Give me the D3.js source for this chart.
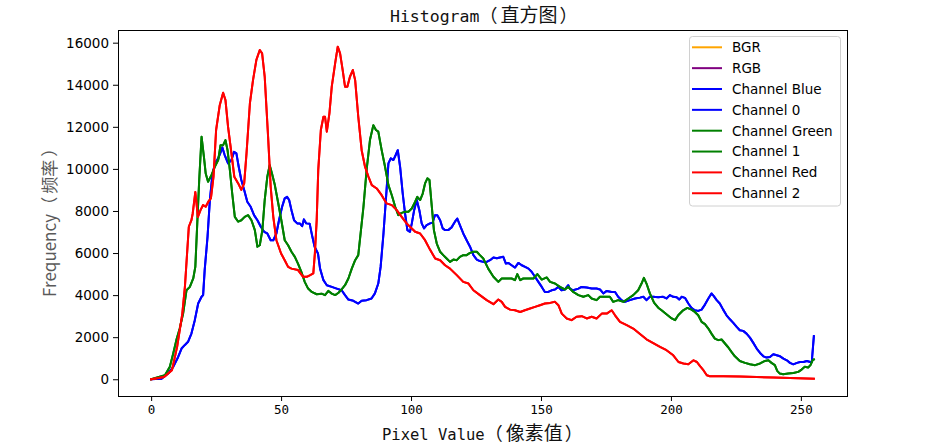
<!DOCTYPE html>
<html>
<head>
<meta charset="utf-8">
<script src="https://d3js.org/d3.v7.min.js"></script>
<style>
  html, body { margin: 0; padding: 0; background: #fff; }
  svg { display: block; }
</style>
</head>
<body>
<svg id="chart" width="941" height="447"></svg>
<script>
// ---- data ----
const xTicks = [0, 50, 100, 150, 200, 250];
const yTicks = [0, 2000, 4000, 6000, 8000, 10000, 12000, 14000, 16000];

const legendLabels = ["BGR", "RGB", "Channel Blue", "Channel 0", "Channel Green", "Channel 1", "Channel Red", "Channel 2"];
const legendColors = ["orange", "purple", "blue", "blue", "green", "green", "red", "red"];

const blueX = [0,4,6.5,8.5,10.4,11.7,12.9,14.2,15.5,16.8,18.1,19.4,20,20.6,21.7,22.6,23.5,24.5,25.8,26.8,27.4,28.3,29.6,30.9,31.9,32.8,33.7,34.7,35.8,37,38.3,39.6,40.9,42.2,43.5,44.7,46,47,48.2,49.2,50.4,51.4,52.3,53.1,54,55,56.2,57.2,58.1,58.8,59.7,61,61.9,62.9,64.2,65,66.3,67.6,69.5,71.4,73.3,74.6,75.9,77.8,79.7,81,82.9,84.8,86.1,87.4,88.3,89.4,90.4,91.3,92.2,93.2,94.1,94.9,95.8,96.8,97.7,98.6,99.6,100.3,101.2,102.2,103.2,104.1,105,106,107.3,108.3,109.2,110.1,111.2,112.2,113.1,114.3,115.6,116.9,117.8,118.8,120.1,121.4,122.7,124,125.3,126.5,127.8,129.1,130.4,131.7,133,134.2,135.5,136.5,137.4,138.7,140,141.3,142.6,143.9,145.2,146.4,147.7,149,150.3,151.5,152.8,154.1,155.4,156.7,157.9,159.2,160.5,161.1,162.4,164.4,165.6,167.6,169.5,171.4,172.7,174,175.3,177.2,178.5,179.7,181,182.3,184.2,186.2,188.1,189.4,190.6,191.9,193.2,195.1,197,198.3,199.6,200.9,202.2,203.2,204.1,205.4,206.7,207.9,209.2,210.5,211.8,213.1,214.4,215.6,216.5,217.6,218.8,220.1,221.4,222.7,224,225.3,226.5,227.8,229.1,230.4,231.7,233,234.3,235.6,236.8,238.1,239.4,240.7,242,243.3,244.6,245.8,247.1,248.5,249.7,251,252.3,253.6,254.2,255];
const blueCounts = [0,20,270,590,1060,1460,1620,1780,2170,2810,3600,3920,4000,5190,6770,8520,9630,10260,10500,10810,11020,10660,10260,10420,10810,10740,10100,9470,9000,8440,8200,7800,7560,7250,7010,6930,6610,6610,6930,7560,8200,8600,8670,8520,8040,7560,7410,7410,7280,7600,7410,7390,6850,6300,5980,5260,4710,4470,4390,4310,4230,4000,3790,3730,3600,3730,3760,3840,4080,4550,5340,6930,8670,10260,10500,10420,10660,10890,10100,8830,7880,7090,7010,7410,8040,8520,8040,7410,7170,7330,7410,7440,7800,7800,7560,7170,7090,7090,7220,7490,7640,7330,6930,6610,6300,5900,5690,5620,5580,5580,5660,5790,5750,5790,5820,5500,5530,5420,5310,5530,5420,5340,5260,5110,4870,4630,4390,4150,4150,4230,4270,4390,4230,4270,4470,4310,4230,4310,4390,4360,4310,4310,4270,4080,4200,4150,4150,3920,3760,3680,3760,3840,3880,3920,3760,3920,3920,3900,3920,3840,4000,3920,3900,3790,3920,3870,3600,3390,3280,3250,3310,3550,3840,4080,3950,3760,3600,3310,3040,2850,2680,2490,2330,2300,2170,1980,1730,1460,1250,1090,1030,1060,1190,1140,1090,980,900,780,710,780,820,820,870,820,820,2050];

const greenX = [0,5.3,7.2,8.5,9.7,11,12.3,13.6,14.9,16.2,17,17.8,18.5,19.4,20.3,21,21.9,23.2,24.5,25.8,26.7,27.7,28.6,29.4,30.3,31.2,32.2,33.5,34.7,36,37.3,38.6,39.9,40.9,41.8,42.8,43.7,44.7,45.6,46.5,47.6,48.8,50.1,51.4,52.7,54,55.3,56.5,57.8,59.1,60.4,61.8,63.7,65.6,66.9,68.2,69.5,70.8,72.1,73.3,74.6,75.9,77.2,78.5,79.7,80.6,81.7,82.9,84.2,85.5,86.5,87.4,88.7,90,91.3,92.6,93.9,95.1,96.4,97.7,99,100.3,101.6,102.4,103.5,104.5,105.4,106.3,107.1,108,108.8,109.9,111.2,112.4,113.7,115,116.3,117.6,118.8,120.1,121.4,122.7,124,125.3,126.5,127.8,129.7,131.7,133.6,134.9,136.8,138.7,140,140.9,142,143.2,145.2,147.1,148.6,150.3,152.2,153.5,155.4,157.3,159.2,160.5,162.4,164.4,166.3,168.2,169.5,171.4,172.7,174.6,176.5,177.8,179.7,181.7,183.6,185.5,187.4,188.7,189.6,190.6,191.9,193.5,195.1,196.4,198.4,200.3,201.6,202.8,204.7,206.3,207.9,209.2,210.5,211.8,213.1,214.4,215.6,216.9,218.2,219.5,220.8,222.1,223.3,224.6,226.5,228.5,230.4,232.4,234.3,236.2,237.5,238.7,240,240.9,241.9,243.2,245.1,247.1,249,250.3,251.5,252.8,253.7,254.5,255];
const greenCounts = [0,190,590,1220,1860,2410,3120,4230,4390,4790,5340,7560,9470,11530,10580,9780,9390,9700,10100,10420,11130,11130,11370,10890,9940,8830,7720,7490,7560,7720,7800,7560,7090,6300,6370,7090,8520,9630,10180,9780,9230,8440,7560,6610,6370,6060,5820,5500,5110,4630,4310,4150,4040,4070,4000,4200,4070,4000,4110,4270,4470,4790,5260,5660,5900,6930,8200,9940,11370,12080,11850,11770,10890,10100,9230,8750,8200,7800,7910,7960,7960,8120,8440,8670,8520,8830,9310,9550,9470,8200,7090,6450,6060,5900,5740,5580,5690,5660,5820,5900,5900,6010,6060,6060,5900,5740,5260,4870,4630,4790,4790,4790,4710,5000,4710,4790,4790,4790,5000,4740,4840,4630,4550,4390,4270,4390,4150,4000,3920,4000,3840,3760,3920,3920,3920,3680,3760,3680,3840,4000,4230,4550,4820,4550,4080,3640,3400,3280,3080,2890,2810,3040,3280,3390,3310,3200,3040,2730,2620,2410,2170,1930,1860,1890,1700,1510,1300,1090,870,780,710,670,750,870,900,780,670,400,270,240,270,300,350,460,590,560,670,900,940];

const redX = [0,5,8,10,12,13,14.5,15.5,16,17,18,19,20,21,22,23,24,25,26.4,27.7,28.6,29.6,30.9,32,33.5,34.7,35.8,36.7,38,39.2,40.5,41.8,42.7,43.7,45,46,47,48.2,50,51.4,52.7,54,56.5,58.5,59.9,61.2,62.4,63,63.7,64.3,65.3,66.3,66.9,67.6,68.6,69.5,70.8,71.8,72.7,73.7,74.6,75.5,76.5,77.6,78.5,79.7,81,82.3,83.6,84.9,86.8,88.7,90.6,92.6,94.5,96.4,98.3,100.3,101.6,103.5,105.4,107.4,109.3,111.2,113.1,115,117.6,120.1,122.1,124,126.5,129.1,131.7,133.6,134.9,136.2,138.1,140,142,143.8,145.8,147.7,149.6,151.5,153.5,155.4,156.7,158,159.9,161.8,163.7,165.7,167.6,169.5,171.4,173.4,175.3,177.2,178.5,180.4,183,185.5,188.1,190.6,193.2,195.8,198.3,200.9,202.9,204.8,206.7,208.7,210,211.2,212.5,213.8,215,220.2,226.5,233,239.4,245.8,255];
const redCounts = [0,110,430,1540,3120,4400,7250,7560,7880,8900,7720,8040,8280,8200,8440,8600,9630,11850,13030,13620,13270,12000,10740,9630,9310,9000,9310,10740,13110,14220,15180,15650,15490,14380,11530,9150,7720,6610,5980,5660,5340,5260,5190,4870,4870,4950,5030,5980,7560,9940,11850,12480,12480,11770,12640,13910,15020,15810,15490,14700,13910,13910,14380,14700,14220,12480,10890,10100,9630,9230,9070,8750,8360,8280,8040,7720,7410,7170,7010,6930,6610,6140,5740,5660,5420,5260,4950,4630,4550,4230,4000,3760,3570,3790,3680,3440,3310,3280,3200,3280,3360,3440,3520,3600,3630,3680,3520,3120,2890,2810,2970,3000,2890,2970,2890,3120,3120,3280,3040,2730,2570,2410,2150,1900,1720,1540,1380,1140,820,750,710,900,820,620,430,190,140,140,130,110,80,60,30];

// ---- layout ----
const svg = d3.select("#chart");
const plotLeft = 118, plotRight = 847, plotTop = 30, plotBottom = 396;

const x = d3.scaleLinear().domain([-12.75, 267.75]).range([plotLeft, plotRight]);
const y = d3.scaleLinear().domain([-796, 16603]).range([plotBottom, plotTop]);

const series = [
  { name: "BGR", color: "orange", xs: [], ys: [] },
  { name: "RGB", color: "purple", xs: [], ys: [] },
  { name: "Channel Blue", color: "blue", xs: blueX, ys: blueCounts },
  { name: "Channel 0", color: "blue", xs: blueX, ys: blueCounts },
  { name: "Channel Green", color: "green", xs: greenX, ys: greenCounts },
  { name: "Channel 1", color: "green", xs: greenX, ys: greenCounts },
  { name: "Channel Red", color: "red", xs: redX, ys: redCounts },
  { name: "Channel 2", color: "red", xs: redX, ys: redCounts }
];

const line = d3.line().x(d => x(d[0])).y(d => y(d[1]));
const plot = svg.append("g");
series.forEach(s => {
  if (!s.xs.length) return;
  plot.append("path")
    .datum(s.xs.map((v, i) => [v, s.ys[i]]))
    .attr("fill", "none")
    .attr("stroke", s.color)
    .attr("stroke-width", 2)
    .attr("stroke-linejoin", "round")
    .attr("stroke-linecap", "square")
    .attr("d", line);
});

// axes
const xAxis = d3.axisBottom(x).tickValues(xTicks).tickSize(5).tickPadding(4).tickFormat(d3.format("d"));
const gx = svg.append("g").attr("transform", `translate(0,${plotBottom})`).call(xAxis);
gx.select(".domain").remove();
gx.selectAll("line").attr("stroke", "#000").attr("stroke-width", 1);
gx.selectAll("text").attr("font-family", "'DejaVu Sans Mono', monospace").attr("font-size", 12.5).attr("fill", "#000");

const yAxis = d3.axisLeft(y).tickValues(yTicks).tickSize(5).tickPadding(4).tickFormat(d3.format("d"));
const gy = svg.append("g").attr("transform", `translate(${plotLeft},0)`).call(yAxis);
gy.select(".domain").remove();
gy.selectAll("line").attr("stroke", "#000").attr("stroke-width", 1);
gy.selectAll("text").attr("font-family", "'DejaVu Sans', sans-serif").attr("font-size", 13.5).attr("fill", "#000");

// frame
svg.append("rect").attr("x", plotLeft).attr("y", plotTop).attr("width", plotRight - plotLeft).attr("height", plotBottom - plotTop)
  .attr("fill", "none").attr("stroke", "#000").attr("stroke-width", 1).attr("shape-rendering", "crispEdges");

// mixed-font label helper: latin part in mono, CJK part in CJK font
function mixedLabel(sel, parts) {
  parts.forEach(p => {
    const t = sel.append("tspan").text(p.text).attr("font-family", p.font).attr("font-size", p.size);
    if (p.dx) t.attr("dx", p.dx);
  });
}
const monoFont = "'DejaVu Sans Mono', monospace";
const cjkFont = "'Noto Sans CJK SC', sans-serif";

// title
const title = svg.append("text").attr("x", 390).attr("y", 22).attr("fill", "#111");
mixedLabel(title, [
  { text: "Histogram", font: monoFont, size: 16.5 },
  { text: "（", font: cjkFont, size: 18 },
  { text: "直方图", font: cjkFont, size: 19, dx: 3 },
  { text: "）", font: cjkFont, size: 18, dx: 2 }
]);

// x label
const xl = svg.append("text").attr("x", 382).attr("y", 440).attr("fill", "#111");
mixedLabel(xl, [
  { text: "Pixel Value", font: monoFont, size: 15.5 },
  { text: "（", font: cjkFont, size: 18 },
  { text: "像素值", font: cjkFont, size: 19, dx: 3 },
  { text: "）", font: cjkFont, size: 18, dx: 2 }
]);

// y label
const yl = svg.append("text").attr("transform", "translate(56,297) rotate(-90)").attr("fill", "#5a5a5a");
mixedLabel(yl, [
  { text: "Frequency", font: cjkFont, size: 17 },
  { text: "（", font: cjkFont, size: 17 },
  { text: "频率", font: cjkFont, size: 17, dx: 3 },
  { text: "）", font: cjkFont, size: 17, dx: 3 }
]);

// legend
const lg = svg.append("g");
lg.append("rect").attr("x", 689.5).attr("y", 36.5).attr("width", 151).attr("height", 169.5)
  .attr("rx", 3).attr("fill", "#fff").attr("fill-opacity", 0.8).attr("stroke", "#d0d0d0").attr("stroke-width", 1);
legendLabels.forEach((lab, i) => {
  const ry = 47.3 + i * 20.85;
  lg.append("line").attr("x1", 692).attr("x2", 722).attr("y1", ry).attr("y2", ry)
    .attr("stroke", legendColors[i]).attr("stroke-width", 2);
  lg.append("text").attr("x", 732).attr("y", ry).attr("dy", "0.36em")
    .attr("font-family", "'DejaVu Sans', sans-serif").attr("font-size", 13.5).attr("fill", "#000")
    .text(lab);
});
</script>
</body>
</html>
